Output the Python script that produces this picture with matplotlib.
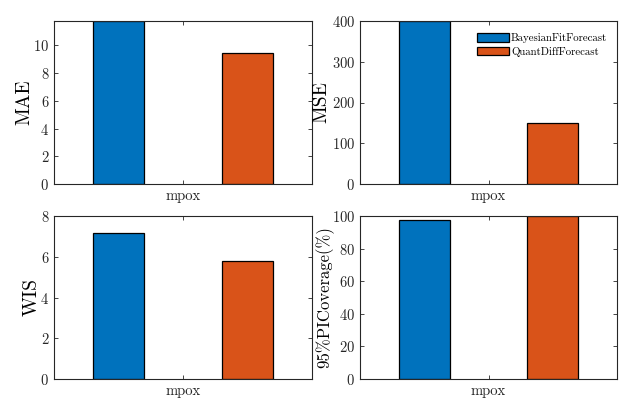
import numpy as np
import matplotlib
matplotlib.use('Agg')
import matplotlib.pyplot as plt

plt.rcParams['font.family'] = 'serif'
plt.rcParams['font.serif'] = ['cmr10']
plt.rcParams['mathtext.fontset'] = 'cm'
plt.rcParams['axes.formatter.use_mathtext'] = True

# Datos
models = ['BayesianFitForecast', 'QuantDiffForecast']
colors = ['#0072BD', '#D95319']
category = 'mpox'
mae = [11.75, 9.47]
mse = [400, 150]
wis = [7.15, 5.78]
coverage = [97.5, 100]

metrics = [('MAE', mae, 11.75, [0, 2, 4, 6, 8, 10]),
           ('MSE', mse, 400, [0, 100, 200, 300, 400]),
           ('WIS', wis, 8, [0, 2, 4, 6, 8]),
           ('95%PICoverage(%)', coverage, 100, [0, 20, 40, 60, 80, 100])]

fig = plt.figure(figsize=(6.39, 4.01), dpi=100)
W, H = 639, 401
boxes = [(54, 21, 312, 184), (360, 21, 617, 184),
         (54, 216, 312, 379), (360, 216, 617, 379)]
label_x = [-0.116, -0.15, -0.085, -0.138]
label_fs = [14, 14, 14, 12]

offsets = [-0.5, 0.5]
for k, (name, vals, ytop, yt) in enumerate(metrics):
    x0, y0, x1, y1 = boxes[k]
    ax = fig.add_axes([x0 / W, 1 - y1 / H, (x1 - x0) / W, (y1 - y0) / H])
    for i in range(2):
        ax.bar(offsets[i], vals[i], width=0.4, color=colors[i],
               edgecolor='black', linewidth=0.9, label=models[i])
    ax.set_xlim(-1, 1)
    ax.set_ylim(0, ytop)
    ax.set_yticks(yt)
    ax.set_xticks([0])
    ax.set_xticklabels([category], fontsize=10.5)
    ax.set_ylabel(name, fontsize=label_fs[k], va='center')
    ax.yaxis.set_label_coords(label_x[k], 0.5)
    ax.tick_params(direction='in', top=True, right=True, labelsize=10.5,
                   length=3, width=0.6, colors='#262626')
    for s in ax.spines.values():
        s.set_linewidth(0.8)
        s.set_color('#262626')
    if k == 1:
        ax.legend(loc='upper left', bbox_to_anchor=(0.455, 0.925),
                  frameon=False, fontsize=7.8, borderpad=0, borderaxespad=0,
                  handlelength=2.95, handleheight=0.85, handletextpad=0.2,
                  labelspacing=0.3)

plt.savefig('out.png', dpi=100)
